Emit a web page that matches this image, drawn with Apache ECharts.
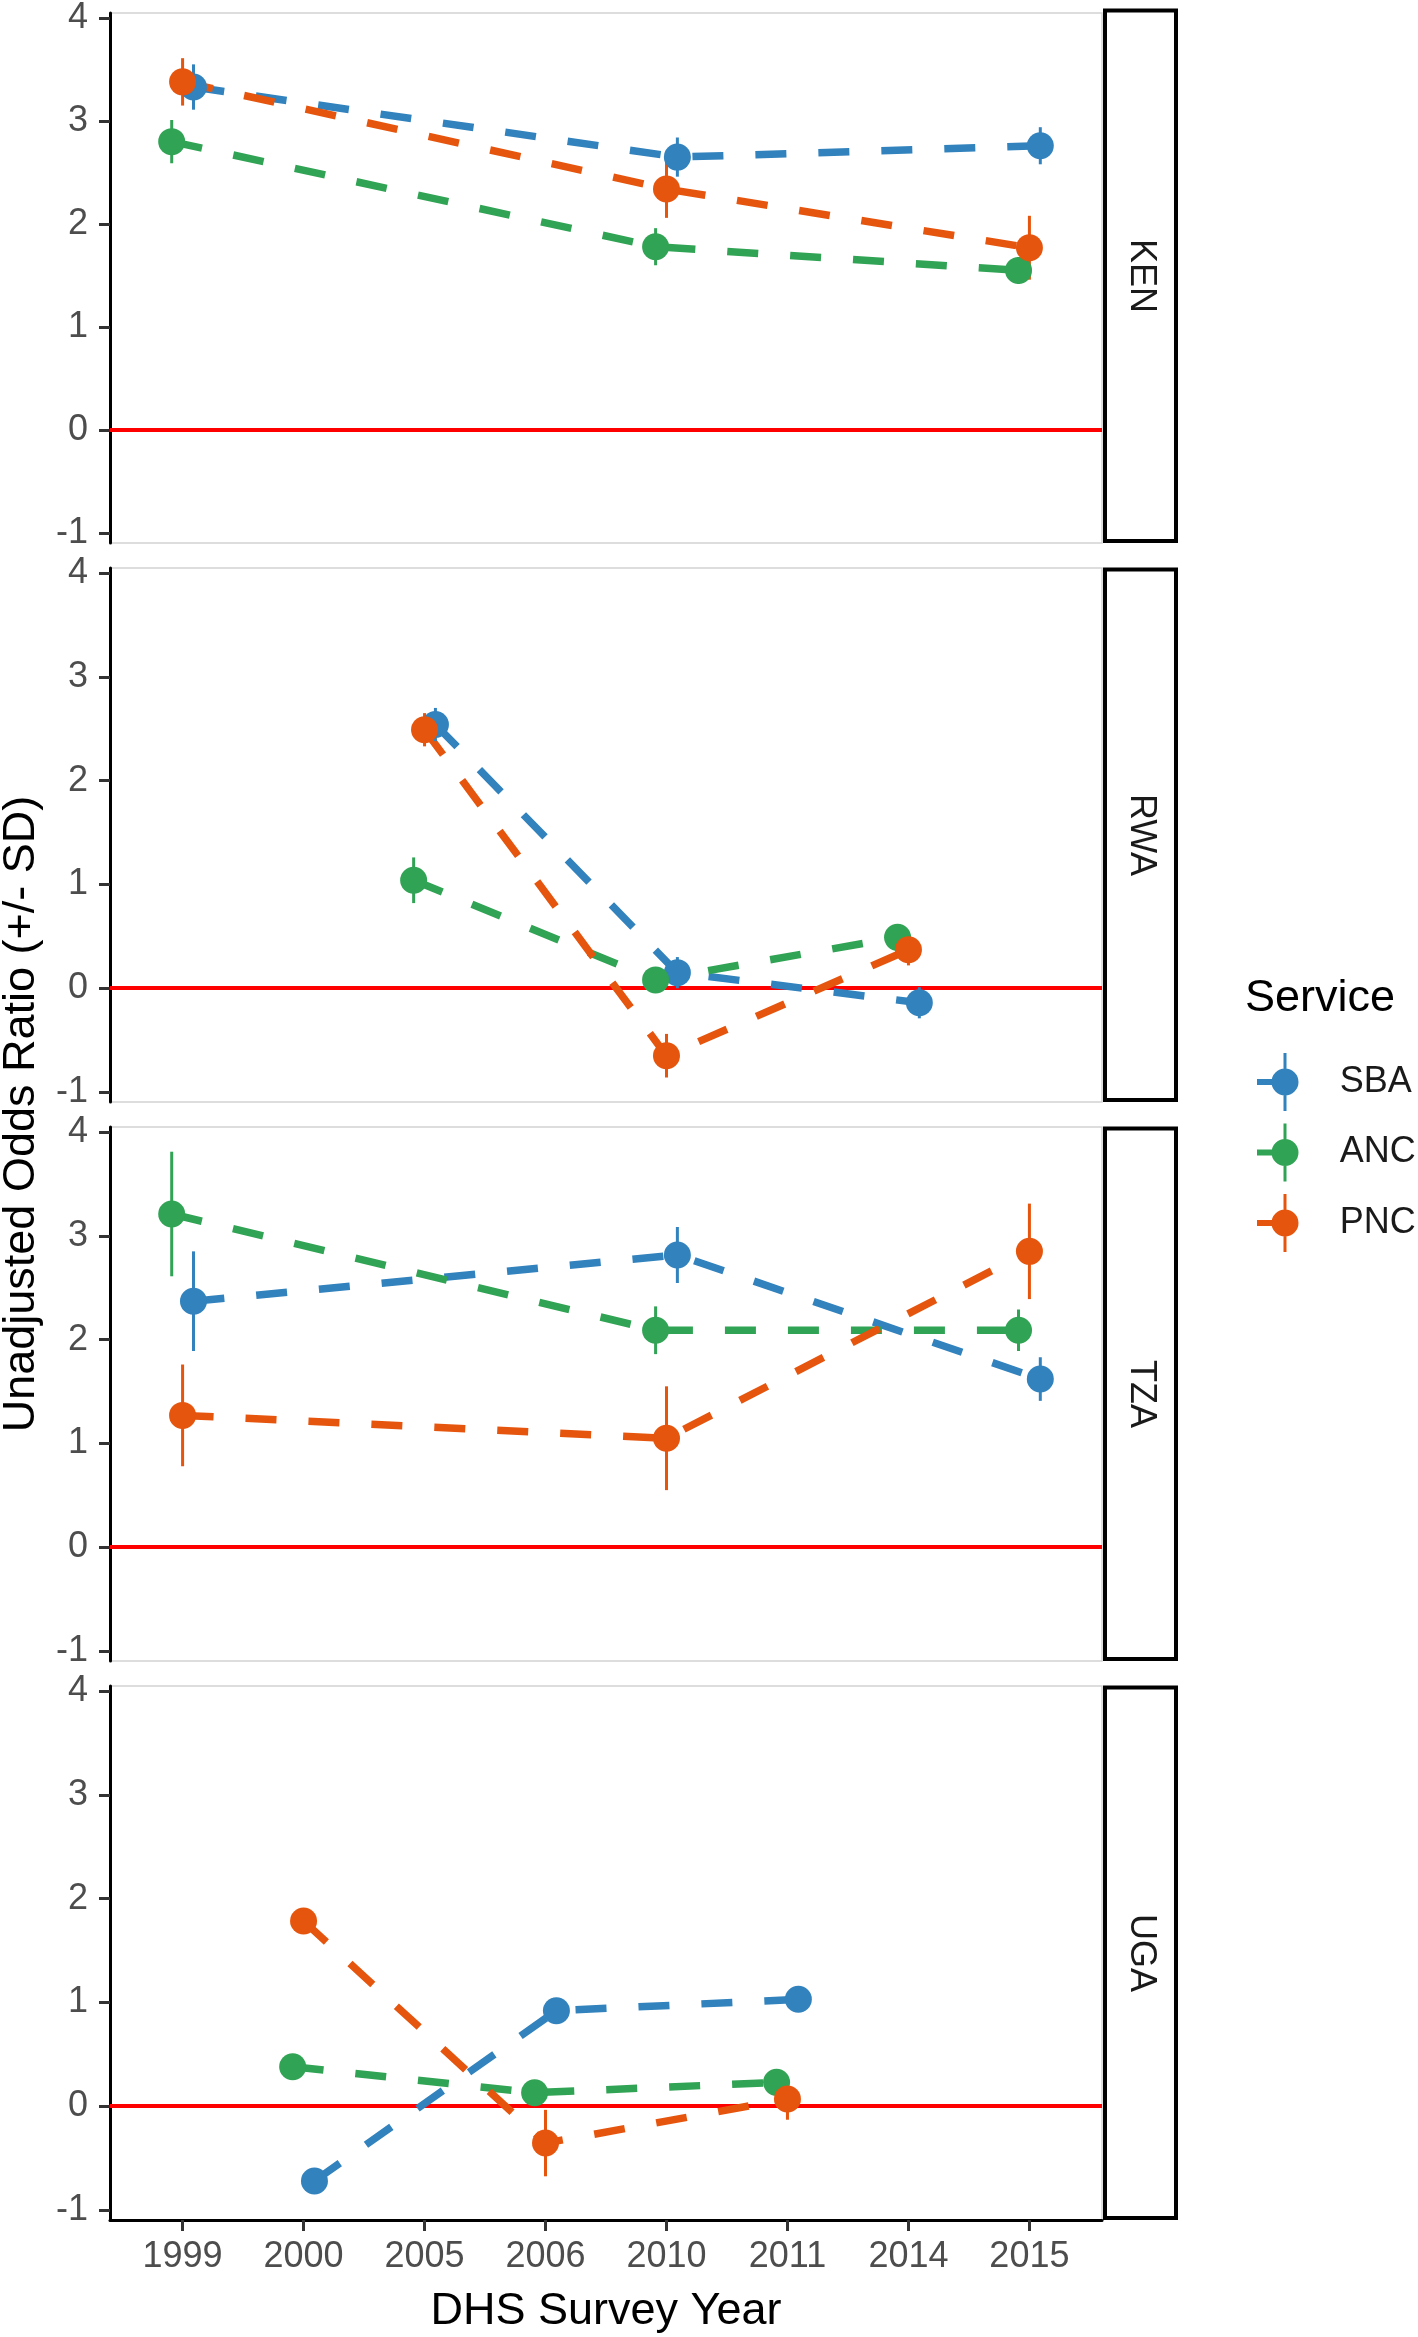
<!DOCTYPE html>
<html>
<head>
<meta charset="utf-8">
<script src="https://cdn.jsdelivr.net/npm/echarts@6/dist/echarts.min.js"></script>
<style>
html,body{margin:0;padding:0;background:#fff;}
#chart{width:1418px;height:2337px;}
</style>
</head>
<body>
<div id="chart"></div>
<script>
// ---------- data ----------
const yearLabels = ['1999', '2000', '2005', '2006', '2010', '2011', '2014', '2015'];
const countries = ['KEN', 'RWA', 'TZA', 'UGA'];
const services = ['SBA', 'ANC', 'PNC'];
const yTicks = [-1, 0, 1, 2, 3, 4];

const KEN_YEARS = ['1999', '2010', '2015'];
const KEN_SBA = [3.33, 2.65, 2.76];
const KEN_SBA_SD = [0.22, 0.19, 0.18];
const KEN_ANC = [2.80, 1.78, 1.55];
const KEN_ANC_SD = [0.21, 0.18, 0.13];
const KEN_PNC = [3.38, 2.34, 1.77];
const KEN_PNC_SD = [0.23, 0.28, 0.31];

const RWA_YEARS = ['2005', '2010', '2014'];
const RWA_SBA = [2.54, 0.15, -0.14];
const RWA_SBA_SD = [0.16, 0.15, 0.15];
const RWA_ANC = [1.04, 0.08, 0.49];
const RWA_ANC_SD = [0.22, 0.08, 0.07];
const RWA_PNC = [2.49, -0.65, 0.37];
const RWA_PNC_SD = [0.16, 0.21, 0.15];

const TZA_YEARS = ['1999', '2010', '2015'];
const TZA_SBA = [2.37, 2.815, 1.62];
const TZA_SBA_SD = [0.48, 0.27, 0.21];
const TZA_ANC = [3.21, 2.09, 2.09];
const TZA_ANC_SD = [0.60, 0.23, 0.20];
const TZA_PNC = [1.27, 1.05, 2.85];
const TZA_PNC_SD = [0.49, 0.50, 0.46];

const UGA_YEARS = ['2000', '2006', '2011'];
const UGA_SBA = [-0.72, 0.92, 1.03];
const UGA_SBA_SD = [0.06, 0.06, 0.06];
const UGA_ANC = [0.38, 0.13, 0.23];
const UGA_ANC_SD = [0.07, 0.07, 0.10];
const UGA_PNC = [1.785, -0.355, 0.07];
const UGA_PNC_SD = [0.08, 0.32, 0.20];

// ---------- styling ----------
const serviceColors = { SBA: '#3182bd', ANC: '#31a354', PNC: '#e6550d' };
const dodge = { SBA: 0.09, ANC: -0.09, PNC: 0 };
const FONT = '"Liberation Sans", Arial, Helvetica, sans-serif';

const table = {
  KEN: { years: KEN_YEARS, SBA: [KEN_SBA, KEN_SBA_SD], ANC: [KEN_ANC, KEN_ANC_SD], PNC: [KEN_PNC, KEN_PNC_SD] },
  RWA: { years: RWA_YEARS, SBA: [RWA_SBA, RWA_SBA_SD], ANC: [RWA_ANC, RWA_ANC_SD], PNC: [RWA_PNC, RWA_PNC_SD] },
  TZA: { years: TZA_YEARS, SBA: [TZA_SBA, TZA_SBA_SD], ANC: [TZA_ANC, TZA_ANC_SD], PNC: [TZA_PNC, TZA_PNC_SD] },
  UGA: { years: UGA_YEARS, SBA: [UGA_SBA, UGA_SBA_SD], ANC: [UGA_ANC, UGA_ANC_SD], PNC: [UGA_PNC, UGA_PNC_SD] }
};

const PANEL_TOP = 9, PANEL_STEP = 559, PANEL_H = 534, PANEL_LEFT = 110, PANEL_W = 992;
const Y_MIN = -1.096, Y_MAX = 4.048;
const X_MIN = -0.6, X_MAX = 7.6;
const xTickVals = yearLabels.map((_, i) => i);

const grids = [], xAxes = [], yAxes = [];
const scatterSeries = [], errSeries = [], lineSeries = [];
const graphics = [];

countries.forEach((c, ci) => {
  const last = ci === countries.length - 1;
  grids.push({
    left: PANEL_LEFT, top: PANEL_TOP + PANEL_STEP * ci, width: PANEL_W, height: PANEL_H,
    show: true, borderColor: '#d2d2d2', borderWidth: 1.5, backgroundColor: 'transparent'
  });
  xAxes.push({
    type: 'value', gridIndex: ci, min: X_MIN, max: X_MAX,
    axisLine: { show: last, onZero: false, lineStyle: { color: '#000', width: 3 } },
    axisTick: { show: last, length: 11, customValues: xTickVals, lineStyle: { color: '#333', width: 3 } },
    axisLabel: {
      show: last, customValues: xTickVals, margin: 19,
      formatter: v => yearLabels[Math.round(v)],
      fontSize: 36, color: '#4d4d4d', fontFamily: FONT
    },
    splitLine: { show: false }
  });
  yAxes.push({
    type: 'value', gridIndex: ci, min: Y_MIN, max: Y_MAX,
    axisLine: { show: true, onZero: false, lineStyle: { color: '#000', width: 3 } },
    axisTick: { show: true, length: 11, customValues: yTicks, lineStyle: { color: '#333', width: 3 } },
    axisLabel: { customValues: yTicks, margin: 22, fontSize: 36, color: '#4d4d4d', fontFamily: FONT },
    splitLine: { show: false }
  });

  const rec = table[c];
  services.forEach((s, si) => {
    const means = rec[s][0], sds = rec[s][1];
    const pts = rec.years.map((y, k) => [yearLabels.indexOf(y) + dodge[s], means[k], sds[k]]);
    const col = serviceColors[s];
    scatterSeries.push({
      name: s, type: 'scatter', xAxisIndex: ci, yAxisIndex: ci,
      data: pts.map(p => [p[0], p[1]]), symbol: 'circle', symbolSize: 27,
      itemStyle: { color: col, opacity: 1 }, z: 5, silent: true
    });
    errSeries.push({
      name: s, type: 'custom', xAxisIndex: ci, yAxisIndex: ci,
      data: pts, encode: { x: 0, y: 1 }, z: 4, silent: true, clip: false,
      renderItem: (params, api) => {
        const x = api.value(0), m = api.value(1), sd = api.value(2);
        const a = api.coord([x, m + sd]), b = api.coord([x, m - sd]);
        return { type: 'line', shape: { x1: a[0], y1: a[1], x2: b[0], y2: b[1] },
                 style: { stroke: col, lineWidth: 3 } };
      }
    });
    const ls = {
      name: s, type: 'line', xAxisIndex: ci, yAxisIndex: ci,
      data: pts.map(p => [p[0], p[1]]), showSymbol: false, symbol: 'none',
      lineStyle: { color: col, width: 7.5, type: [31, 32], cap: 'butt' },
      itemStyle: { color: col }, z: 3, silent: true
    };
    if (si === 0) {
      ls.markLine = {
        silent: true, symbol: 'none', label: { show: false },
        lineStyle: { color: '#ff0000', width: 4, type: 'solid' },
        data: [{ yAxis: 0 }], z: 2
      };
    }
    lineSeries.push(ls);
  });

  // facet strip
  graphics.push({
    type: 'rect', silent: true,
    shape: { x: 1105, y: PANEL_TOP + 1.5 + PANEL_STEP * ci, width: 71, height: PANEL_H - 3.5 },
    style: { fill: '#fff', stroke: '#000', lineWidth: 4 }
  });
  graphics.push({
    type: 'text', silent: true,
    x: 1141, y: PANEL_TOP + PANEL_H / 2 + PANEL_STEP * ci, rotation: -Math.PI / 2,
    style: { text: c, fontSize: 36, fontFamily: FONT, fill: '#1a1a1a', align: 'center', verticalAlign: 'middle' }
  });
});

graphics.push({
  type: 'text', silent: true, x: 22, y: 1114, rotation: Math.PI / 2,
  style: { text: 'Unadjusted Odds Ratio (+/- SD)', fontSize: 45, fontFamily: FONT, fill: '#000', align: 'center', verticalAlign: 'middle' }
});
graphics.push({
  type: 'text', silent: true, x: 606, y: 2312,
  style: { text: 'DHS Survey Year', fontSize: 45, fontFamily: FONT, fill: '#000', align: 'center', verticalAlign: 'middle' }
});
graphics.push({
  type: 'text', silent: true, x: 1245, y: 999,
  style: { text: 'Service', fontSize: 45, fontFamily: FONT, fill: '#000', align: 'left', verticalAlign: 'middle' }
});

// legend key: horizontal stub + vertical range + point (non-overlapping pieces)
const legendIcon = 'path://M0,26L14.8,26L14.8,32L0,32Z M26.5,0L29.5,0L29.5,15.8L26.5,15.8Z M26.5,42.2L29.5,42.2L29.5,58L26.5,58Z M14.5,29A13.5,13.5 0 1,1 41.5,29A13.5,13.5 0 1,1 14.5,29Z';

const chart = echarts.init(document.getElementById('chart'), null, { renderer: 'canvas' });
chart.setOption({
  animation: false,
  backgroundColor: '#fff',
  textStyle: { fontFamily: FONT },
  grid: grids,
  xAxis: xAxes,
  yAxis: yAxes,
  legend: {
    data: services, orient: 'vertical', left: 1252, top: 1048,
    itemWidth: 42, itemHeight: 58, itemGap: 12.5, selectedMode: false,
    icon: legendIcon,
    itemStyle: { borderWidth: 0 },
    textStyle: { fontSize: 36, color: '#1a1a1a', fontFamily: FONT, padding: [0, 0, 0, 36] }
  },
  graphic: graphics,
  series: [].concat(scatterSeries, errSeries, lineSeries)
});
</script>
</body>
</html>
